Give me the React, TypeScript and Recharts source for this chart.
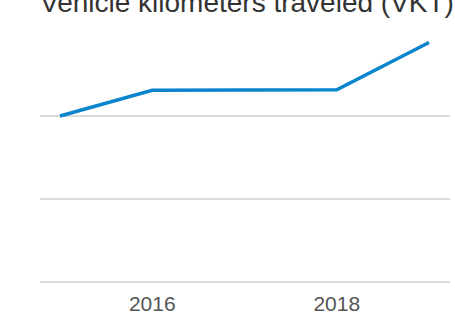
import { LineChart, Line, XAxis, YAxis, CartesianGrid } from 'recharts';

const years = [2015, 2016, 2017, 2018, 2019];
const vkt = [2.0, 2.31, 2.312, 2.316, 2.886];
const xTicks = [2016, 2018];
const yTicks = [0, 1, 2];

const data = years.map((year, i) => ({ year, vkt: vkt[i] }));

const font = '"Liberation Sans", Arial, sans-serif';

export default function App() {
  return (
    <div style={{ position: 'fixed', left: 0, top: 0, width: 455, height: 319, background: '#fff' }}>
      <LineChart
        width={455}
        height={319}
        data={data}
        margin={{ top: 33, right: 5, bottom: 0, left: 40 }}
      >
        <CartesianGrid vertical={false} horizontalValues={yTicks} stroke="#cfcfcf" strokeWidth={1.5} />
        <XAxis
          dataKey="year"
          type="number"
          domain={[2015, 2019]}
          ticks={xTicks}
          padding={{ left: 20, right: 21 }}
          height={37}
          axisLine={false}
          tickLine={false}
          tickSize={0}
          tickMargin={14}
          tick={{ fontSize: 21, fill: '#555', fontFamily: font }}
        />
        <YAxis hide domain={[0, 3]} ticks={yTicks} />
        <Line
          type="linear"
          dataKey="vkt"
          stroke="#0a84cc"
          strokeWidth={3.5}
          dot={false}
          isAnimationActive={false}
        />
      </LineChart>
      <svg width={455} height={40} style={{ position: 'absolute', left: 0, top: 0 }}>
        <text x={40} y={12} fontSize={28} fill="#333" fontFamily={font}>
          Vehicle kilometers traveled (VKT)
        </text>
      </svg>
    </div>
  );
}
